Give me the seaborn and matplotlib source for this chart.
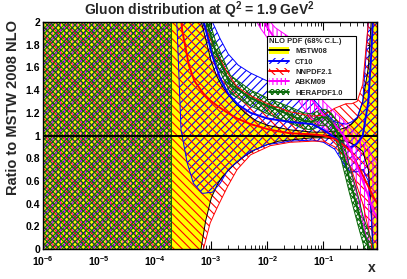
import numpy as np
import matplotlib
matplotlib.use("Agg")
import matplotlib.pyplot as plt
import seaborn as sns
from matplotlib.patches import Patch
from matplotlib.lines import Line2D
from matplotlib.ticker import MultipleLocator, FixedLocator, LogLocator, NullFormatter, FuncFormatter

# ROOT-like look: plain ticks style, bold Helvetica-ish text
sns.set_theme(style="ticks")
plt.rcParams['font.family'] = ['Liberation Sans', 'DejaVu Sans']
plt.rcParams['font.weight'] = 'bold'
plt.rcParams['mathtext.fontset'] = 'custom'
plt.rcParams['mathtext.rm'] = 'Liberation Sans:bold'
plt.rcParams['mathtext.bf'] = 'Liberation Sans:bold'
plt.rcParams['mathtext.it'] = 'Liberation Sans:bold:italic'
plt.rcParams['hatch.linewidth'] = 0.8

# -----------------------
# data (log10 x, ratio to MSTW08)
# -----------------------
mstw_logx = [-6.0, -3.71, -3.71, -3.4, -3.25, -3.2, -3.1, -3.0, -2.9, -2.8, -2.6, -2.4, -2.2, -2.0,
             -1.8, -1.6, -1.4, -1.2, -1.0, -0.8, -0.6, -0.5, -0.4, -0.3, -0.2, -0.15, -0.1, -0.04]
mstw_lo = [-0.5, -0.5, -0.5, -0.5, -0.3, -0.05, 0.25, 0.45, 0.56, 0.64, 0.74, 0.82, 0.88, 0.92,
           0.95, 0.96, 0.97, 0.98, 0.98, 0.97, 0.95, 0.93, 0.9, 0.86, 0.7, 0.35, -0.2, -0.5]
mstw_hi = [2.5, 2.5, 2.5, 2.5, 2.5, 2.05, 1.85, 1.65, 1.52, 1.43, 1.3, 1.2, 1.13, 1.09,
           1.07, 1.05, 1.04, 1.03, 1.03, 1.04, 1.07, 1.1, 1.15, 1.3, 1.6, 2.0, 2.5, 2.5]
mstw_mid = [1.0] * len(mstw_logx)

ct10_logx = [-6.0, -3.71, -3.71, -3.61, -3.54, -3.43, -3.32, -3.16, -2.98, -2.84, -2.70, -2.52, -2.3,
             -2.0, -1.6, -1.2, -1.0, -0.8, -0.6, -0.5, -0.4, -0.3, -0.2, -0.15, -0.1, -0.04]
ct10_lo = [-0.5, -0.5, 2.6, 1.95, 1.05, 0.76, 0.58, 0.49, 0.5, 0.58, 0.7, 0.78, 0.86,
           0.92, 0.95, 0.96, 0.94, 0.88, 0.72, 0.68, 0.68, 0.7, 0.6, 0.3, -0.2, -0.5]
ct10_hi = [2.5, 2.5, 3.0, 3.0, 3.0, 3.0, 3.0, 2.3, 2.0, 1.85, 1.72, 1.62, 1.55,
           1.48, 1.4, 1.33, 1.22, 1.12, 1.1, 1.12, 1.16, 1.3, 2.0, 2.5, 3.0, 3.0]
ct10_mid = [3.0, 3.0, 3.0, 3.0, 3.0, 3.0, 3.0, 2.05, 1.7, 1.5, 1.37, 1.27, 1.2,
            1.15, 1.12, 1.1, 1.05, 0.98, 0.9, 0.9, 0.93, 1.0, 1.3, 1.7, 2.2, 2.6]

nnpdf_logx = [-6.0, -3.71, -3.71, -3.52, -3.4, -3.3, -3.14, -3.02, -2.89, -2.71, -2.54, -2.3, -1.95,
              -1.6, -1.2, -1.0, -0.8, -0.6, -0.5, -0.4, -0.3, -0.2, -0.15, -0.1, -0.04]
nnpdf_lo = [-0.5, -0.5, -0.5, -0.5, -0.5, -0.3, 0.0, 0.23, 0.37, 0.55, 0.7, 0.83, 0.91,
            0.94, 0.95, 0.95, 0.9, 0.8, 0.7, 0.55, 0.4, 0.18, 0.05, -0.1, -0.3]
nnpdf_hi = [2.5, 2.5, 3.0, 3.0, 2.6, 2.3, 2.0, 1.85, 1.72, 1.55, 1.43, 1.35, 1.27,
            1.21, 1.17, 1.18, 1.24, 1.28, 1.28, 1.3, 1.45, 2.0, 2.5, 3.0, 3.0]
nnpdf_mid = [3.0, 3.0, 3.0, 1.93, 1.62, 1.48, 1.37, 1.31, 1.26, 1.2, 1.15, 1.1, 1.05,
             1.02, 1.01, 1.0, 0.97, 0.9, 0.85, 0.75, 0.65, 0.55, 0.5, 0.45, 0.4]

abkm_logx = [-6.0, -3.71, -3.71, -2.3, -2.13, -2.0, -1.86, -1.59, -1.41, -1.23, -1.0, -0.79, -0.64,
             -0.52, -0.39, -0.30, -0.21, -0.12, -0.04]
abkm_lo = [-0.5, -0.5, 3.0, 2.1, 1.95, 1.86, 1.74, 1.46, 1.28, 1.16, 1.07, 0.98, 0.87,
           0.7, 0.45, 0.25, 0.05, -0.1, -0.2]
abkm_hi = [2.5, 2.5, 3.0, 3.0, 2.3, 2.03, 1.95, 1.86, 1.72, 1.5, 1.3, 1.2, 1.13,
           1.06, 1.0, 0.95, 0.9, 0.8, 0.75]
abkm_mid = [3.0, 3.0, 3.0, 2.7, 2.15, 1.95, 1.85, 1.66, 1.5, 1.33, 1.18, 1.09, 1.0,
            0.88, 0.72, 0.6, 0.48, 0.35, 0.27]

hera_logx = [-6.0, -3.71, -3.71, -3.2, -3.11, -2.93, -2.66, -2.3, -1.95, -1.59, -1.36, -1.2, -1.05,
             -0.95, -0.85, -0.75, -0.64, -0.54, -0.39, -0.29, -0.2, -0.1]
hera_lo = [-0.5, -0.5, 2.9, 2.2, 1.96, 1.66, 1.37, 1.26, 1.18, 1.11, 1.06, 1.05, 1.09,
           1.09, 1.03, 0.92, 0.7, 0.5, 0.22, 0.04, -0.1, -0.2]
hera_hi = [2.5, 2.5, 3.1, 2.4, 2.14, 1.84, 1.53, 1.4, 1.32, 1.25, 1.2, 1.19, 1.23,
           1.23, 1.19, 1.12, 0.94, 0.74, 0.48, 0.28, 0.16, 0.0]
hera_mid = [3.0, 3.0, 3.0, 2.3, 2.05, 1.75, 1.45, 1.33, 1.25, 1.18, 1.13, 1.12, 1.16,
            1.16, 1.11, 1.02, 0.82, 0.62, 0.35, 0.16, 0.03, -0.1]

xtick_pos = [1e-6, 1e-5, 1e-4, 1e-3, 1e-2, 1e-1]
xtick_labels = [r"$10^{-6}$", r"$10^{-5}$", r"$10^{-4}$", r"$10^{-3}$", r"$10^{-2}$", r"$10^{-1}$"]

# name, data, line colour, hatch
pdfs = [
    ("MSTW08", (mstw_logx, mstw_lo, mstw_mid, mstw_hi), "black", None),
    ("CT10", (ct10_logx, ct10_lo, ct10_mid, ct10_hi), "#0000ff", "////"),
    ("NNPDF2.1", (nnpdf_logx, nnpdf_lo, nnpdf_mid, nnpdf_hi), "#ff0000", "\\\\\\\\"),
    ("ABKM09", (abkm_logx, abkm_lo, abkm_mid, abkm_hi), "#ff00ff", "||||"),
    ("HERAPDF1.0", (hera_logx, hera_lo, hera_mid, hera_hi), "#0a6a0a", "xxxxxx"),
]

fig = plt.figure(figsize=(4.07, 2.79), dpi=100)
ax = fig.add_axes([0.1057, 0.1075, 0.8206, 0.8136])
ax.set_xscale('log')
ax.set_xlim(1e-6, 0.9)
ax.set_ylim(0, 2)

# bands
for name, (lx, lo, mid, hi), col, hatch in pdfs:
    x = 10 ** np.array(lx)
    if hatch is None:
        ax.fill_between(x, lo, hi, facecolor="#ffff00", edgecolor="none", lw=0)
    else:
        ax.fill_between(x, lo, hi, facecolor="none", edgecolor=col, hatch=hatch, lw=0)

# band edges
for name, (lx, lo, mid, hi), col, hatch in pdfs:
    x = 10 ** np.array(lx)
    ax.plot(x, lo, color=col, lw=0.7)
    ax.plot(x, hi, color=col, lw=0.7)

# central values
for name, (lx, lo, mid, hi), col, hatch in pdfs:
    x = 10 ** np.array(lx)
    sns.lineplot(x=x, y=mid, color=col, lw=1.4, ax=ax, sort=False, estimator=None)

# axes cosmetics (ROOT style ticks inside on all sides)
ax.xaxis.set_major_locator(FixedLocator(xtick_pos))
ax.set_xticklabels(xtick_labels)
ax.xaxis.set_minor_locator(LogLocator(base=10, subs=np.arange(2, 10)))
ax.xaxis.set_minor_formatter(NullFormatter())
ax.yaxis.set_major_locator(MultipleLocator(0.2))
ax.yaxis.set_minor_locator(MultipleLocator(0.04))
ax.yaxis.set_major_formatter(FuncFormatter(lambda v, p: "%g" % round(v, 2)))
ax.tick_params(which='both', direction='in', top=True, right=True, colors='black', labelsize=7.5)
ax.tick_params(axis='y', which='major', length=7, width=0.8, pad=2)
ax.tick_params(axis='y', which='minor', length=3.5, width=0.6)
ax.tick_params(axis='x', which='major', length=5.5, width=0.8, pad=3.5)
ax.tick_params(axis='x', which='minor', length=2.8, width=0.6)
for s in ax.spines.values():
    s.set_linewidth(1.0)
    s.set_color('black')
ax.set_xlabel("")
ax.set_ylabel("")

# legend
handles = []
for name, data, col, hatch in pdfs:
    if hatch is None:
        p = Patch(facecolor="#ffff00", edgecolor="none")
    else:
        p = Patch(facecolor="white", edgecolor=col, hatch=hatch, lw=0)
    handles.append((p, Line2D([], [], color=col, lw=1.4)))
leg = ax.legend(handles, [p[0] for p in pdfs], loc='upper left',
                bbox_to_anchor=(0.67, 0.5, 0.267, 0.44), mode='expand',
                title="NLO PDF (68% C.L.)", alignment='left', fontsize=5.5,
                title_fontproperties={'weight': 'bold', 'size': 5.5},
                frameon=True, fancybox=False, framealpha=1, edgecolor='black',
                borderpad=0.3, labelspacing=0.3, handlelength=2.6, handleheight=1.0,
                handletextpad=0.8, borderaxespad=0)
leg.get_frame().set_linewidth(0.8)

# texts
fig.text(0.49, 0.963, r"Gluon distribution at Q$^2$ = 1.9 GeV$^2$", ha='center', va='center',
         fontsize=10, fontweight='bold')
fig.text(0.032, 0.93, "Ratio to MSTW 2008 NLO", rotation=90, ha='center', va='top',
         fontsize=10.5, fontweight='bold')
fig.text(0.914, 0.038, "x", ha='center', va='center', fontsize=10, fontweight='bold')

plt.savefig("out.png", dpi=100)
